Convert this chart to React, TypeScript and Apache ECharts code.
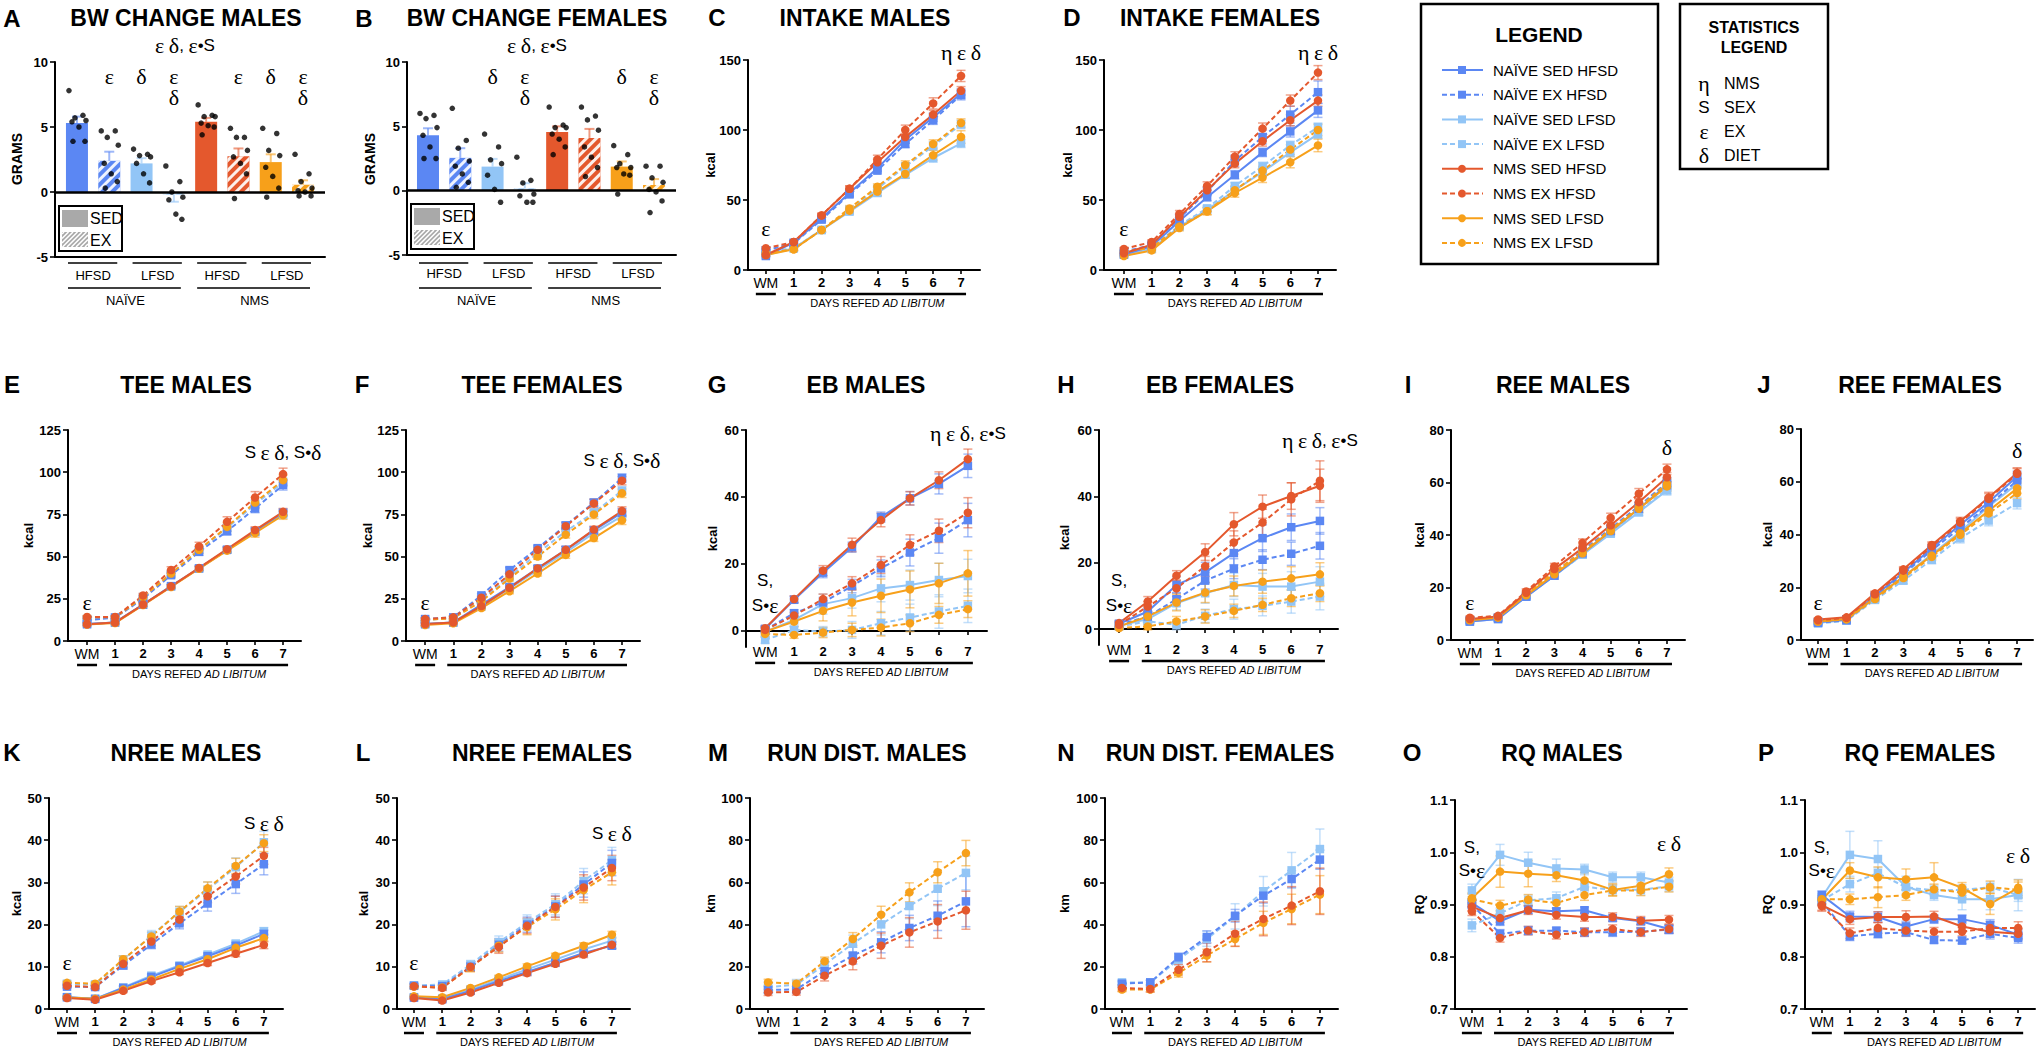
import React, { useEffect, useRef } from "react";
import * as echarts from "echarts";

// ---------- colours / groups ----------
const BLUE = "#5b87f3";
const LBLUE = "#92c5f6";
const RED = "#e4582d";
const ORANGE = "#f7a01a";

const GROUP_NAMES = ["NAÏVE SED HFSD", "NAÏVE EX HFSD", "NAÏVE SED LFSD", "NAÏVE EX LFSD", "NMS SED HFSD", "NMS EX HFSD", "NMS SED LFSD", "NMS EX LFSD"];
const GROUP_COLORS = [BLUE, BLUE, LBLUE, LBLUE, RED, RED, ORANGE, ORANGE];
const GROUP_DASHED = [false, true, false, true, false, true, false, true];
const GROUP_SYMBOL = ["rect", "rect", "rect", "rect", "circle", "circle", "circle", "circle"];
const DAY_LABELS = ["WM", "1", "2", "3", "4", "5", "6", "7"];
const DIET_LABELS = ["HFSD", "LFSD", "HFSD", "LFSD"];
const COHORT_LABELS = ["NAÏVE", "NMS"];
const BW_TICKS = [-5, 0, 5, 10];
const STATS = [["η", "NMS"], ["S", "SEX"], ["ε", "EX"], ["δ", "DIET"]];

// ---------- bar data (order = GROUP_NAMES) ----------
const BW_MALES = [5.3, 2.4, 2.2, -0.2, 5.4, 2.75, 2.3, 0.56];
const BW_MALES_SEM = [0.5, 0.7, 0.4, 0.55, 0.3, 0.6, 0.6, 0.34];
const BW_MALES_DOTS = [
  [7.8, 5.9, 5.7, 5.5, 5.4, 5.0, 3.9, 3.9],
  [4.7, 4.7, 4.2, 3.6, 2.2, 1.4, 0.8, 0.3],
  [3.3, 2.9, 2.8, 2.7, 2.2, 1.4, 0.7],
  [2.0, 0.8, 0.0, -0.4, -0.6, -1.7, -2.1],
  [6.7, 5.9, 5.8, 5.8, 5.3, 5.1, 5.0, 4.4],
  [4.9, 4.2, 4.2, 3.2, 2.7, 2.2, 1.4, -0.5],
  [4.9, 4.5, 3.2, 2.8, 1.9, 1.2, 0.3, -0.4],
  [2.9, 1.4, 0.8, 0.3, 0.1, 0.0, -0.3, -0.3],
];
const BW_FEMALES = [4.3, 2.55, 1.87, 0.18, 4.55, 4.1, 1.87, 0.44];
const BW_FEMALES_SEM = [0.55, 0.75, 0.6, 0.4, 0.45, 0.7, 0.4, 0.46];
const BW_FEMALES_DOTS = [
  [6.0, 5.85, 5.6, 4.9, 4.3, 3.4, 2.5, 2.5],
  [6.4, 3.9, 3.3, 2.3, 1.9, 1.3, 0.65, 0.26],
  [4.4, 3.4, 2.4, 2.1, 1.2, 0.1, -0.9],
  [2.6, 0.8, 0.6, -0.26, -0.4, -0.9, -0.9],
  [6.5, 5.1, 4.9, 4.9, 4.4, 4.0, 3.4, 2.8],
  [6.5, 5.8, 5.5, 4.7, 3.4, 2.6, 1.8, 1.1],
  [3.5, 2.8, 2.1, 1.8, 1.8, 1.3, 1.2, -0.26],
  [1.9, 1.9, 1.0, 0.65, 0.1, -0.1, -0.8, -1.7],
];

// ---------- line data: rows in GROUP_NAMES order, columns WM,1..7 ----------
const INTAKE_MALES = [
  [10, 19.5, 37, 55, 72.6, 93, 109, 126],
  [14, 19, 36, 54, 71, 90, 107, 125],
  [10.7, 15.5, 28.6, 41.7, 55, 68, 80, 90.5],
  [13, 15.5, 28.6, 43, 58, 74, 88.6, 104],
  [10.7, 20, 39, 58, 77, 95, 111, 128],
  [15.5, 20, 39, 58, 79, 100, 119, 138.6],
  [10.7, 14.8, 28.6, 42.4, 56, 68.6, 82, 95],
  [12, 14.8, 28.6, 44, 59.5, 75, 90, 105],
];
const INTAKE_MALES_SEM = [
  [0.8, 1, 1.5, 2, 2, 2.5, 3, 3.5],
  [0.8, 1, 1.5, 2, 2, 2.5, 3, 3.5],
  [0.8, 1, 1.5, 2, 2, 2.5, 3, 3],
  [0.8, 1, 1.5, 2, 2, 2.5, 3, 3],
  [0.8, 1, 1.5, 2, 2, 2.5, 3, 3],
  [1, 1, 1.5, 2, 3, 3.5, 4, 4],
  [0.8, 1, 1.5, 2, 3, 3, 3.5, 4.5],
  [0.8, 1, 1.5, 2, 2, 3, 3, 3],
];
const INTAKE_FEMALES = [
  [11, 17, 35, 52, 68, 84, 99, 114],
  [13, 18, 37, 56, 78, 95, 111, 127],
  [11, 15, 31, 43, 57, 70, 84, 97],
  [12, 16, 32, 44, 60, 74, 89, 102],
  [12, 18, 38, 57, 76, 92, 107, 121],
  [15, 20, 40, 60, 81, 101, 121, 141],
  [10, 14, 30, 42, 55, 66, 77, 89],
  [13, 16, 31, 42, 57, 71, 86, 100],
];
const INTAKE_FEMALES_SEM = [
  [1, 1.5, 2, 2.5, 3, 3, 4, 5],
  [1, 2, 2.5, 3, 4, 5, 6, 8],
  [1, 1.5, 2, 2, 2.5, 3, 3, 3],
  [1, 1.5, 2, 2, 2.5, 3, 3, 3],
  [1, 1.5, 2, 2.5, 3, 3.5, 4, 4],
  [1, 1.5, 2.5, 3, 3.5, 4, 4, 5],
  [1, 1.5, 2, 2.5, 3, 3.5, 4, 4.5],
  [1, 1.5, 2, 2.5, 3, 3, 3.5, 4],
];
const TEE_MALES = [
  [10, 11, 21.5, 32.5, 43, 54, 65, 76],
  [12.3, 13.8, 25, 39, 52.8, 65, 78.5, 92.4],
  [10, 11, 21.5, 32.4, 43, 54, 64.5, 75],
  [13, 14, 26, 40, 54, 67, 81, 94],
  [9.9, 10.9, 21.6, 32.4, 43.3, 54.4, 65.7, 76.5],
  [14.2, 14.2, 27, 42, 56, 70.6, 85, 98.9],
  [9.8, 10.6, 21.3, 32, 42.8, 53.5, 64, 74.6],
  [14, 14, 26, 40, 54, 67.6, 82, 95.3],
];
const TEE_MALES_SEM = [
  [0.8, 0.8, 1, 1, 1.2, 1.5, 2, 2],
  [0.8, 0.8, 1, 1.5, 2, 2, 2.5, 3],
  [0.8, 0.8, 1, 1, 1.2, 1.5, 2, 2],
  [0.8, 0.8, 1, 1.5, 2, 2, 2.5, 2.5],
  [0.8, 0.8, 1, 1, 1.2, 1.5, 2, 2],
  [0.8, 0.8, 1.2, 2, 2.5, 3, 3.5, 3.5],
  [0.8, 0.8, 1, 1, 1.2, 1.5, 2.5, 2.5],
  [0.8, 0.8, 1.2, 1.5, 2, 2.5, 3, 3],
];
const TEE_FEMALES = [
  [10, 11, 21.5, 32, 43, 54, 65.5, 76],
  [13, 14, 27, 42, 55, 68.5, 82, 96.5],
  [10, 11, 20.5, 31, 42, 52.5, 64, 74],
  [12.5, 13.5, 24.5, 38, 52, 65, 76, 89],
  [10, 11, 20.7, 31.5, 43, 54, 66, 77],
  [13, 14, 25.6, 39.5, 54, 68, 81.5, 95],
  [9.5, 10.5, 19.5, 29.5, 40, 51, 61, 71.5],
  [12.5, 13.5, 23.5, 37, 50, 63, 75, 87.5],
];
const TEE_FEMALES_SEM = [
  [0.8, 0.8, 1, 1.5, 1.5, 2, 2, 2.5],
  [0.8, 0.8, 1, 1.5, 1.5, 2, 2, 2.5],
  [0.8, 0.8, 1, 1.5, 1.5, 2, 2, 2.5],
  [0.8, 0.8, 1, 1.5, 1.5, 2, 2.5, 2.5],
  [0.8, 0.8, 1, 1.5, 1.5, 2, 2, 2.5],
  [0.8, 0.8, 1, 1.5, 1.5, 2, 2.5, 2.5],
  [0.8, 0.8, 1, 1.5, 1.5, 2, 2, 2.5],
  [0.8, 0.8, 1, 1.5, 1.5, 2, 2.5, 2.5],
];
const EB_MALES = [
  [0.6, 9.3, 17.4, 25, 34, 39.6, 43.9, 49.3],
  [0.3, 5.3, 8.5, 13.4, 18.7, 23.4, 27.7, 33.1],
  [-0.2, 3.3, 8, 9.8, 12.7, 13.7, 15.2, 16.4],
  [-2.7, 0.3, -0.2, 0.3, 2.3, 4, 5.8, 7.5],
  [0.8, 9.5, 18, 25.7, 33.1, 39.6, 45, 51.3],
  [0.3, 4.6, 9.5, 14.2, 19.7, 25.7, 29.9, 35.3],
  [-0.2, 2.8, 6, 8.5, 10.5, 12.4, 14.2, 17.2],
  [-0.9, -1.2, -0.5, 0.3, 1, 2.3, 4.8, 6.5],
];
const EB_MALES_SEM = [
  [0.8, 1, 1.5, 1.5, 1.5, 2, 3, 3.5],
  [0.8, 1, 1.5, 2, 2.5, 4, 4.5, 5],
  [1.5, 2, 3, 3, 4, 4.5, 5, 5],
  [1, 1.5, 1.5, 2.5, 3.5, 4, 5, 5],
  [0.8, 1, 1.5, 2, 2, 2, 2.5, 3],
  [0.8, 1, 1.5, 2, 2.5, 3, 3.5, 4.5],
  [1, 1.5, 3, 4, 5, 5.5, 6, 6.8],
  [1, 1, 1.5, 2, 2.5, 2.5, 2.5, 2.5],
];
const EB_FEMALES = [
  [1.6, 5.3, 13.3, 17.1, 22.9, 27.4, 30.7, 32.6],
  [1.3, 3.8, 9, 14.6, 18.2, 20.9, 22.7, 25.1],
  [1, 3, 7.8, 10.8, 13.3, 12.8, 12.8, 14.3],
  [0.8, 2.3, 1.3, 4, 6, 7, 8.3, 9.8],
  [1.8, 8.3, 16.1, 23.2, 31.6, 36.9, 40.1, 43.2],
  [1.3, 6.8, 12.3, 18.9, 26.1, 32.1, 39.1, 44.7],
  [0.8, 3.8, 8, 11, 13, 14.3, 15.3, 16.5],
  [0.3, 0.8, 2.3, 3.8, 5.5, 7.3, 9.3, 10.8],
];
const EB_FEMALES_SEM = [
  [0.8, 2, 2.5, 3, 3.5, 4, 4, 4],
  [0.8, 1.5, 2, 2.5, 3, 3, 3.5, 4],
  [0.8, 1.5, 2, 3, 3.5, 4, 4.5, 4.5],
  [0.5, 1, 1.5, 2, 3, 3, 3.5, 4],
  [0.8, 1.5, 1.5, 2.5, 3.5, 3.5, 4, 5],
  [0.8, 1.5, 2.5, 3, 3.5, 4, 5, 6],
  [0.8, 1.5, 2.5, 3, 3, 3.5, 3.5, 3.5],
  [0.5, 1, 1.5, 2, 2, 2, 2.5, 2.5],
];
const REE_MALES = [
  [7, 8, 16.5, 24.5, 33, 41.5, 50, 59],
  [7.5, 8.5, 17, 25.5, 34, 42.5, 51, 60],
  [7, 8, 16.5, 24.5, 32.5, 40.5, 48.7, 57],
  [7.5, 8.5, 16.5, 24.5, 32.5, 41, 49, 57.5],
  [8, 9, 18, 27, 35, 43.7, 52.5, 62],
  [8.5, 9.2, 18.5, 28, 37, 46.5, 55.7, 65],
  [7.5, 8.5, 17, 25, 33, 41.5, 50, 58.5],
  [8, 8.8, 17.5, 26, 33.5, 42, 50.5, 59.5],
];
const REE_MALES_SEM = [
  [0.5, 0.6, 0.8, 1, 1, 1.2, 1.5, 1.8],
  [0.5, 0.6, 0.8, 1, 1, 1.2, 1.5, 1.8],
  [0.5, 0.6, 0.8, 1, 1, 1.2, 1.5, 1.8],
  [0.5, 0.6, 0.8, 1, 1, 1.2, 1.5, 1.8],
  [0.5, 0.6, 0.8, 1, 1, 1.2, 1.5, 1.8],
  [0.6, 0.6, 1, 1.2, 1.5, 1.8, 2, 2],
  [0.5, 0.6, 0.8, 1, 1, 1.2, 1.5, 1.8],
  [0.5, 0.6, 0.8, 1, 1, 1.2, 1.5, 1.8],
];
const REE_FEMALES = [
  [6.8, 7.8, 16.8, 25.6, 34.8, 43.7, 52.2, 62],
  [6.5, 7.5, 16.3, 25, 34, 42.5, 51, 60.5],
  [6.5, 7.5, 15.8, 24, 32.5, 41, 50.6, 59.2],
  [6.3, 7.3, 15.2, 22.5, 30.4, 38.6, 45.3, 51.9],
  [7.8, 8.6, 17.7, 26.8, 36, 45, 54, 63.3],
  [7.5, 8.4, 17.3, 26.3, 35.5, 44.5, 53.5, 63],
  [7, 8, 16, 24, 32, 40.5, 49, 57.5],
  [7, 7.8, 15.5, 23.5, 31.5, 39.9, 48, 55.7],
];
const REE_FEMALES_SEM = [
  [0.5, 0.6, 0.8, 1, 1.2, 1.5, 2, 2],
  [0.5, 0.6, 0.8, 1, 1.2, 1.5, 2, 2],
  [0.5, 0.6, 0.8, 1, 1.2, 1.5, 2, 2],
  [0.5, 0.6, 1, 1.2, 1.5, 1.8, 2, 2.2],
  [0.5, 0.6, 0.8, 1, 1.2, 1.5, 2, 2],
  [0.5, 0.6, 0.8, 1, 1.2, 1.5, 2, 2],
  [0.5, 0.6, 0.8, 1, 1.2, 1.5, 2, 2],
  [0.5, 0.6, 0.8, 1, 1.2, 1.5, 2, 2.2],
];
const NREE_MALES = [
  [2.8, 2.4, 5, 7.6, 10.1, 12.5, 15, 17.8],
  [5.3, 5.2, 10.3, 15.3, 20.3, 25, 29.6, 34.3],
  [2.8, 2.4, 5.1, 7.9, 10.3, 12.9, 15.5, 18.4],
  [6.0, 5.8, 11.6, 17.4, 23.0, 28.3, 33.6, 39.5],
  [2.6, 2.2, 4.3, 6.6, 8.7, 10.9, 13.1, 15.2],
  [5.5, 5.2, 10.7, 16, 21.2, 26.7, 31.4, 36.3],
  [2.7, 2.4, 4.6, 7, 9.5, 11.8, 14.5, 16.8],
  [6.2, 6, 11.8, 17.2, 23.1, 28.6, 33.9, 39.3],
];
const NREE_MALES_SEM = [
  [0.3, 0.3, 0.4, 0.5, 0.5, 0.6, 0.7, 0.9],
  [0.4, 0.4, 0.8, 1, 1.3, 1.8, 2.2, 2.5],
  [0.3, 0.3, 0.4, 0.5, 0.5, 0.6, 0.7, 0.9],
  [0.5, 0.5, 1, 1.2, 1.3, 1.8, 2.2, 2.6],
  [0.3, 0.3, 0.4, 0.5, 0.5, 0.6, 0.7, 0.9],
  [0.4, 0.4, 0.8, 1, 1.3, 1.5, 1.8, 2],
  [0.3, 0.3, 0.4, 0.5, 0.5, 0.6, 0.7, 0.9],
  [0.4, 0.4, 0.8, 1, 1.2, 1.5, 1.8, 2],
];
const NREE_FEMALES = [
  [2.7, 2.3, 4.3, 6.6, 8.8, 11, 13.3, 15],
  [5.5, 5.4, 10, 15.2, 20, 24.3, 29.5, 34.6],
  [2.8, 2.5, 4.6, 7.0, 9.4, 11.7, 14.1, 16.2],
  [5.6, 5.8, 10.5, 15.8, 20.5, 24.8, 30.3, 35.3],
  [2.6, 2.0, 3.9, 6.2, 8.5, 10.7, 12.9, 15.2],
  [5.4, 5.0, 10, 14.7, 19.7, 24.2, 28.8, 33.4],
  [3.0, 2.8, 5.0, 7.5, 10.1, 12.6, 15, 17.6],
  [5.3, 5.1, 9.8, 15, 19.4, 23.6, 28.2, 32.4],
];
const NREE_FEMALES_SEM = [
  [0.3, 0.3, 0.4, 0.5, 0.6, 0.6, 0.7, 0.8],
  [0.5, 0.6, 1, 1.5, 1.8, 2.5, 3, 3],
  [0.3, 0.3, 0.4, 0.5, 0.6, 0.6, 0.7, 0.8],
  [0.5, 0.6, 1, 1.5, 1.8, 2.5, 3, 3],
  [0.3, 0.3, 0.4, 0.5, 0.6, 0.6, 0.7, 0.8],
  [0.5, 0.6, 1, 1.5, 1.8, 2.5, 3, 3],
  [0.3, 0.3, 0.4, 0.5, 0.6, 0.6, 0.7, 0.8],
  [0.5, 0.6, 1, 1.5, 1.8, 2.5, 3, 3],
];
// running distance: EX groups only (NAÏVE EX HFSD, NAÏVE EX LFSD, NMS EX HFSD, NMS EX LFSD)
const RUN_MALES = [
  [9, 9.3, 17.9, 25.3, 31.6, 38.4, 44.2, 51],
  [10.4, 11.5, 21, 31, 40.1, 48.8, 57, 64.5],
  [7.9, 8.1, 15.8, 22.6, 30, 36.3, 41.5, 46.8],
  [12.6, 12, 22.6, 33.2, 44.7, 55.3, 64.8, 73.9],
];
const RUN_MALES_SEM = [
  [1.5, 1.5, 2.5, 4, 5, 6, 7, 12],
  [2.5, 2.5, 3, 4, 5, 6, 8, 8],
  [1.5, 1.5, 2.5, 4, 6, 7, 8, 9],
  [1.5, 1.5, 2, 3, 4, 4.5, 5, 6],
];
const RUN_FEMALES = [
  [12, 12.6, 24.5, 34.1, 44.2, 53.7, 61.6, 70.8],
  [12.6, 12.6, 23.4, 33.2, 43.9, 55.8, 65.7, 75.8],
  [10, 9.5, 18.6, 26.9, 35.7, 42.7, 49, 55.8],
  [9.2, 9.2, 17.1, 25.3, 33.2, 40.8, 47.4, 54.2],
];
const RUN_FEMALES_SEM = [
  [1, 1, 2, 3, 3, 3.5, 4, 4.5],
  [1, 1, 2.5, 3.5, 6, 7, 8.5, 9.5],
  [1.5, 1.5, 2.5, 4.5, 6, 8, 9, 11],
  [1, 1, 2, 3, 3.5, 5.5, 7, 9],
];
const RQ_MALES = [
  [0.903, 0.868, 0.89, 0.887, 0.889, 0.874, 0.868, 0.853],
  [0.9, 0.844, 0.85, 0.85, 0.847, 0.847, 0.848, 0.852],
  [0.927, 0.995, 0.98, 0.969, 0.967, 0.952, 0.952, 0.942],
  [0.86, 0.883, 0.908, 0.912, 0.934, 0.928, 0.928, 0.935],
  [0.896, 0.874, 0.889, 0.88, 0.876, 0.876, 0.869, 0.871],
  [0.887, 0.836, 0.85, 0.842, 0.847, 0.853, 0.847, 0.853],
  [0.912, 0.963, 0.959, 0.956, 0.946, 0.928, 0.936, 0.958],
  [0.91, 0.898, 0.909, 0.903, 0.918, 0.927, 0.927, 0.934],
];
const RQ_MALES_SEM = [
  [0.008, 0.008, 0.008, 0.006, 0.006, 0.006, 0.006, 0.008],
  [0.008, 0.008, 0.008, 0.006, 0.008, 0.008, 0.008, 0.008],
  [0.012, 0.02, 0.02, 0.018, 0.01, 0.01, 0.01, 0.01],
  [0.012, 0.01, 0.01, 0.012, 0.01, 0.01, 0.01, 0.01],
  [0.008, 0.008, 0.008, 0.008, 0.008, 0.008, 0.008, 0.008],
  [0.008, 0.008, 0.008, 0.008, 0.008, 0.008, 0.008, 0.008],
  [0.01, 0.03, 0.025, 0.012, 0.015, 0.012, 0.012, 0.012],
  [0.01, 0.01, 0.01, 0.01, 0.01, 0.01, 0.01, 0.01],
];
const RQ_FEMALES = [
  [0.918, 0.877, 0.876, 0.858, 0.872, 0.872, 0.861, 0.842],
  [0.906, 0.839, 0.844, 0.847, 0.832, 0.831, 0.844, 0.836],
  [0.914, 0.995, 0.987, 0.934, 0.918, 0.91, 0.91, 0.918],
  [0.908, 0.939, 0.96, 0.933, 0.927, 0.928, 0.933, 0.918],
  [0.899, 0.872, 0.876, 0.876, 0.877, 0.858, 0.848, 0.844],
  [0.897, 0.845, 0.855, 0.85, 0.848, 0.848, 0.855, 0.855],
  [0.909, 0.965, 0.952, 0.948, 0.952, 0.932, 0.901, 0.932],
  [0.91, 0.91, 0.914, 0.918, 0.929, 0.923, 0.933, 0.928],
];
const RQ_FEMALES_SEM = [
  [0.008, 0.01, 0.01, 0.01, 0.008, 0.008, 0.01, 0.01],
  [0.008, 0.008, 0.008, 0.008, 0.006, 0.006, 0.01, 0.01],
  [0.008, 0.045, 0.035, 0.02, 0.01, 0.02, 0.02, 0.012],
  [0.008, 0.015, 0.01, 0.012, 0.01, 0.01, 0.01, 0.03],
  [0.01, 0.01, 0.01, 0.012, 0.01, 0.01, 0.01, 0.01],
  [0.01, 0.01, 0.01, 0.01, 0.008, 0.008, 0.012, 0.012],
  [0.008, 0.015, 0.02, 0.02, 0.028, 0.01, 0.02, 0.015],
  [0.008, 0.01, 0.02, 0.01, 0.01, 0.01, 0.012, 0.015],
];

// ---------- layout ----------
const SANS = "Liberation Sans, Arial, Helvetica, sans-serif";
const SERIF = "Liberation Serif, Times New Roman, serif";
const ALL = [0, 1, 2, 3, 4, 5, 6, 7];
const EXONLY = [1, 3, 5, 7];
const DRAW_ORDER = [2, 3, 0, 1, 6, 7, 4, 5];
const JITTER = [-8, 6, -2, 9, -5, 2, 8, -4];

const BAR_PANELS = [
  { letter: "A", title: "BW CHANGE MALES", lx: 12, tx: 186, x0: 55, x1: 325, yTop: 62, yBot: 257, xmin: -0.68, xmax: 7.68,
    means: BW_MALES, sem: BW_MALES_SEM, dots: BW_MALES_DOTS, ynx: 17, legX: 59, legY: 206, top: "ε δ, ε•S", topX: 185,
    marks: [[1, "ε"], [2, "δ"], [3, "ε", "δ"], [5, "ε"], [6, "δ"], [7, "ε", "δ"]] },
  { letter: "B", title: "BW CHANGE FEMALES", lx: 364, tx: 537, x0: 407, x1: 676, yTop: 62, yBot: 255, xmin: -0.65, xmax: 7.68,
    means: BW_FEMALES, sem: BW_FEMALES_SEM, dots: BW_FEMALES_DOTS, ynx: 370, legX: 411, legY: 204, top: "ε δ, ε•S", topX: 537,
    marks: [[2, "δ"], [3, "ε", "δ"], [6, "δ"], [7, "ε", "δ"]] },
];

const LINE_PANELS: any[] = [
  { letter: "C", title: "INTAKE MALES", lx: 717, tx: 865, ty: 18, x0: 748, x1: 980, yTop: 60, yBot: 270, xmin: -0.64, xmax: 7.68,
    ymin: 0, ymax: 150, yticks: [0, 50, 100, 150], yname: "kcal", ynx: 710, data: INTAKE_MALES, sem: INTAKE_MALES_SEM, groups: ALL,
    annos: [["ε", 0, 228], ["η ε δ", 7, 52]] },
  { letter: "D", title: "INTAKE FEMALES", lx: 1072, tx: 1220, ty: 18, x0: 1104, x1: 1336, yTop: 60, yBot: 270, xmin: -0.72, xmax: 7.65,
    ymin: 0, ymax: 150, yticks: [0, 50, 100, 150], yname: "kcal", ynx: 1067, data: INTAKE_FEMALES, sem: INTAKE_FEMALES_SEM, groups: ALL,
    annos: [["ε", 0, 228], ["η ε δ", 7, 52]] },
  { letter: "E", title: "TEE MALES", lx: 12, tx: 186, ty: 385, x0: 68, x1: 301, yTop: 430, yBot: 641, xmin: -0.68, xmax: 7.64,
    ymin: 0, ymax: 125, yticks: [0, 25, 50, 75, 100, 125], yname: "kcal", ynx: 28, data: TEE_MALES, sem: TEE_MALES_SEM, groups: ALL,
    annos: [["ε", 0, 602], ["S ε δ, S•δ", 7, 452]] },
  { letter: "F", title: "TEE FEMALES", lx: 362, tx: 542, ty: 385, x0: 406, x1: 640, yTop: 430, yBot: 641, xmin: -0.68, xmax: 7.64,
    ymin: 0, ymax: 125, yticks: [0, 25, 50, 75, 100, 125], yname: "kcal", ynx: 367, data: TEE_FEMALES, sem: TEE_FEMALES_SEM, groups: ALL,
    annos: [["ε", 0, 602], ["S ε δ, S•δ", 7, 460]] },
  { letter: "G", title: "EB MALES", lx: 717, tx: 866, ty: 385, x0: 746, x1: 987, yTop: 430, yBot: 647, xmin: -0.66, xmax: 7.66,
    ymin: -4.8, ymax: 60, yticks: [0, 20, 40, 60], yname: "kcal", ynx: 712, data: EB_MALES, sem: EB_MALES_SEM, groups: ALL, zeroAxis: true,
    annos: [["S,", 0, 580], ["S•ε", 0, 605], ["η ε δ, ε•S", 7, 433]] },
  { letter: "H", title: "EB FEMALES", lx: 1066, tx: 1220, ty: 385, x0: 1099, x1: 1338, yTop: 430, yBot: 645, xmin: -0.7, xmax: 7.63,
    ymin: -4.8, ymax: 60, yticks: [0, 20, 40, 60], yname: "kcal", ynx: 1064, data: EB_FEMALES, sem: EB_FEMALES_SEM, groups: ALL, zeroAxis: true,
    annos: [["S,", 0, 580], ["S•ε", 0, 605], ["η ε δ, ε•S", 7, 440]] },
  { letter: "I", title: "REE MALES", lx: 1408, tx: 1563, ty: 385, x0: 1451, x1: 1685, yTop: 430, yBot: 640, xmin: -0.67, xmax: 7.64,
    ymin: 0, ymax: 80, yticks: [0, 20, 40, 60, 80], yname: "kcal", ynx: 1419, data: REE_MALES, sem: REE_MALES_SEM, groups: ALL,
    annos: [["ε", 0, 602], ["δ", 7, 447]] },
  { letter: "J", title: "REE FEMALES", lx: 1764, tx: 1920, ty: 385, x0: 1801, x1: 2033, yTop: 429, yBot: 640, xmin: -0.6, xmax: 7.56,
    ymin: 0, ymax: 80, yticks: [0, 20, 40, 60, 80], yname: "kcal", ynx: 1767, data: REE_FEMALES, sem: REE_FEMALES_SEM, groups: ALL,
    annos: [["ε", 0, 602], ["δ", 7, 450]] },
  { letter: "K", title: "NREE MALES", lx: 12, tx: 186, ty: 753, x0: 49, x1: 283, yTop: 798, yBot: 1009, xmin: -0.64, xmax: 7.68,
    ymin: 0, ymax: 50, yticks: [0, 10, 20, 30, 40, 50], yname: "kcal", ynx: 16, data: NREE_MALES, sem: NREE_MALES_SEM, groups: ALL,
    annos: [["ε", 0, 962], ["S ε δ", 7, 823]] },
  { letter: "L", title: "NREE FEMALES", lx: 363, tx: 542, ty: 753, x0: 397, x1: 630, yTop: 798, yBot: 1009, xmin: -0.6, xmax: 7.64,
    ymin: 0, ymax: 50, yticks: [0, 10, 20, 30, 40, 50], yname: "kcal", ynx: 363, data: NREE_FEMALES, sem: NREE_FEMALES_SEM, groups: ALL,
    annos: [["ε", 0, 962], ["S ε δ", 7, 833]] },
  { letter: "M", title: "RUN DIST. MALES", lx: 718, tx: 867, ty: 753, x0: 750, x1: 984, yTop: 798, yBot: 1009, xmin: -0.64, xmax: 7.64,
    ymin: 0, ymax: 100, yticks: [0, 20, 40, 60, 80, 100], yname: "km", ynx: 710, data: RUN_MALES, sem: RUN_MALES_SEM, groups: EXONLY,
    annos: [] },
  { letter: "N", title: "RUN DIST. FEMALES", lx: 1066, tx: 1220, ty: 753, x0: 1105, x1: 1338, yTop: 798, yBot: 1009, xmin: -0.6, xmax: 7.64,
    ymin: 0, ymax: 100, yticks: [0, 20, 40, 60, 80, 100], yname: "km", ynx: 1064, data: RUN_FEMALES, sem: RUN_FEMALES_SEM, groups: EXONLY,
    annos: [] },
  { letter: "O", title: "RQ MALES", lx: 1412, tx: 1562, ty: 753, x0: 1455, x1: 1687, yTop: 800, yBot: 1009, xmin: -0.6, xmax: 7.64,
    ymin: 0.7, ymax: 1.1, yticks: [0.7, 0.8, 0.9, 1.0, 1.1], yname: "RQ", ynx: 1419, data: RQ_MALES, sem: RQ_MALES_SEM, groups: ALL, dec: 1,
    annos: [["S,", 0, 847], ["S•ε", 0, 870], ["ε δ", 7, 843]] },
  { letter: "P", title: "RQ FEMALES", lx: 1766, tx: 1920, ty: 753, x0: 1805, x1: 2035, yTop: 800, yBot: 1009, xmin: -0.6, xmax: 7.6,
    ymin: 0.7, ymax: 1.1, yticks: [0.7, 0.8, 0.9, 1.0, 1.1], yname: "RQ", ynx: 1767, data: RQ_FEMALES, sem: RQ_FEMALES_SEM, groups: ALL, dec: 1,
    annos: [["S,", 0, 847], ["S•ε", 0, 870], ["ε δ", 7, 855]] },
];

// ---------- helpers ----------
function px(p: any, x: number) {
  return p.x0 + ((x - p.xmin) / (p.xmax - p.xmin)) * (p.x1 - p.x0);
}
function py(p: any, y: number) {
  return p.yBot - ((y - p.ymin) / (p.ymax - p.ymin)) * (p.yBot - p.yTop);
}
function alpha(hex: string, a: number) {
  const n = parseInt(hex.slice(1), 16);
  return `rgba(${(n >> 16) & 255},${(n >> 8) & 255},${n & 255},${a})`;
}
function txt(text: string, x: number, y: number, size: number, o: any = {}) {
  return {
    type: "text", x, y, silent: true, rotation: o.rot || 0, z: 50,
    style: {
      text, fontSize: size, fontWeight: o.bold ? "bold" : "normal", fontFamily: o.serif ? SERIF : SANS,
      fontStyle: o.italic ? "italic" : "normal", fill: "#000", textAlign: o.align || "center", textVerticalAlign: "middle",
      rich: o.rich,
    },
  };
}
const GREEK = "εδηε";
function anno(s: string, x: number, y: number) {
  let out = "";
  for (const ch of s) {
    if (GREEK.includes(ch)) out += `{g|${ch}}`;
    else if (ch === " ") out += `{sp| }`;
    else out += `{s|${ch}}`;
  }
  return txt(out, x, y, 20, {
    rich: {
      g: { fontFamily: SERIF, fontSize: 22, fill: "#000" },
      s: { fontFamily: SANS, fontSize: 17, fill: "#000" },
      sp: { fontFamily: SERIF, fontSize: 18, fill: "#000" },
    },
  });
}
function hline(x1: number, x2: number, y: number, w = 2.5) {
  return { type: "line", silent: true, z: 50, shape: { x1, y1: y, x2, y2: y }, style: { stroke: "#000", lineWidth: w } };
}
function hatch(x: number, y: number, w: number, h: number, step: number) {
  const out: any[] = [];
  for (let t = -h + 2; t < w; t += step) {
    let x1 = x + t, y1 = y + h, x2 = x + t + h, y2 = y;
    if (x1 < x) { y1 -= x - x1; x1 = x; }
    if (x2 > x + w) { y2 += x2 - (x + w); x2 = x + w; }
    out.push({ type: "line", silent: true, z: 52, shape: { x1, y1, x2, y2 }, style: { stroke: "#fff", lineWidth: 1.6 } });
  }
  return out;
}

function buildOption() {
  const grid: any[] = [], xAxis: any[] = [], yAxis: any[] = [], series: any[] = [], graphic: any[] = [];
  const axisLine = { color: "#000", width: 2 };
  const tickStyle = { color: "#000", width: 1.6 };
  const yLabel = { fontSize: 13, fontWeight: "bold", color: "#000", fontFamily: SANS, margin: 7 };

  // ---------------- bar panels ----------------
  BAR_PANELS.forEach((p) => {
    const gi = grid.length;
    grid.push({ left: p.x0, top: p.yTop, width: p.x1 - p.x0, height: p.yBot - p.yTop, outerBoundsMode: "none" });
    xAxis.push({
      type: "value", gridIndex: gi, min: p.xmin, max: p.xmax, splitLine: { show: false },
      axisLine: { show: true, onZero: false, lineStyle: axisLine }, axisTick: { show: false },
      axisLabel: {
        customValues: [0.5, 2.5, 4.5, 6.5], margin: 12, fontSize: 13, color: "#000", fontFamily: SANS,
        formatter: (v: number) => DIET_LABELS[Math.round((v - 0.5) / 2)],
      },
    });
    yAxis.push({
      type: "value", gridIndex: gi, min: -5, max: 10, splitLine: { show: false },
      axisLine: { show: true, onZero: false, lineStyle: axisLine },
      axisTick: { show: true, customValues: BW_TICKS, length: 5, lineStyle: tickStyle },
      axisLabel: { ...yLabel, customValues: BW_TICKS },
    });
    const decal = {
      symbol: "rect", symbolSize: 1, color: "rgba(255,255,255,0.9)", dashArrayX: [1, 0], dashArrayY: [2.5, 3.5], rotation: -Math.PI / 4,
    };
    series.push({
      type: "bar", xAxisIndex: gi, yAxisIndex: gi, barWidth: 22, barGap: "-100%", silent: true, z: 2,
      data: [0, 2, 4, 6].map((i) => ({ value: [i, p.means[i]], itemStyle: { color: GROUP_COLORS[i] } })),
    });
    series.push({
      type: "bar", xAxisIndex: gi, yAxisIndex: gi, barWidth: 22, barGap: "-100%", silent: true, z: 2,
      itemStyle: { decal },
      data: [1, 3, 5, 7].map((i) => ({ value: [i, p.means[i]], itemStyle: { color: GROUP_COLORS[i], decal } })),
    });
    series.push({
      type: "custom", xAxisIndex: gi, yAxisIndex: gi, silent: true, z: 3,
      data: p.means.map((m, i) => [i, m, p.sem[i]]),
      renderItem: (params: any, api: any) => {
        const i = params.dataIndex;
        const x = api.value(0), m = api.value(1), e = api.value(2);
        const dir = m >= 0 ? 1 : -1;
        const a = api.coord([x, m]);
        const b = api.coord([x, m + dir * e]);
        const st = { stroke: alpha(GROUP_COLORS[i], 0.6), lineWidth: 2 };
        return {
          type: "group",
          children: [
            { type: "line", shape: { x1: a[0], y1: a[1], x2: b[0], y2: b[1] }, style: st },
            { type: "line", shape: { x1: b[0] - 5, y1: b[1], x2: b[0] + 5, y2: b[1] }, style: st },
          ],
        };
      },
      markLine: {
        silent: true, symbol: ["none", "none"], label: { show: false },
        lineStyle: { color: "#000", width: 2.5, type: "solid" }, data: [{ yAxis: 0 }],
      },
    });
    series.push({
      type: "scatter", xAxisIndex: gi, yAxisIndex: gi, silent: true, z: 4, symbolSize: 5.5, itemStyle: { color: "#000" },
      data: p.dots.flatMap((arr, i) => arr.map((v, k) => ({ value: [i, v], symbolOffset: [JITTER[k % JITTER.length], 0] }))),
    });

    // texts
    graphic.push(txt(p.letter, p.lx, 18, 24, { bold: true }));
    graphic.push(txt(p.title, p.tx, 18, 23, { bold: true }));
    graphic.push(anno(p.top, p.topX, 45));
    p.marks.forEach((m: any) => {
      const x = px(p, m[0]);
      graphic.push(anno(m[1], x, 76));
      if (m[2]) graphic.push(anno(m[2], x, 97));
    });
    graphic.push(txt("GRAMS", p.ynx, 159, 14, { bold: true, rot: Math.PI / 2 }));
    // group underlines
    [0, 2, 4, 6].forEach((i) => graphic.push(hline(px(p, i) - 9, px(p, i + 1) + 8, 263, 1.6)));
    [0, 4].forEach((i, k) => {
      graphic.push(hline(px(p, i) - 9, px(p, i + 3) + 7, 288, 1.6));
      graphic.push(txt(COHORT_LABELS[k], (px(p, i) + px(p, i + 3)) / 2, 300, 13));
    });
    // SED / EX legend
    const lx = p.legX, ly = p.legY;
    graphic.push({ type: "rect", silent: true, z: 51, shape: { x: lx, y: ly, width: 63, height: 45 }, style: { fill: "#fff", stroke: "#000", lineWidth: 2 } });
    graphic.push({ type: "rect", silent: true, z: 52, shape: { x: lx + 3, y: ly + 4, width: 26, height: 17 }, style: { fill: "#a9a9a9" } });
    graphic.push({ type: "rect", silent: true, z: 52, shape: { x: lx + 3, y: ly + 26, width: 26, height: 15 }, style: { fill: "#a9a9a9" } });
    hatch(lx + 3, ly + 26, 26, 15, 4.5).forEach((g) => graphic.push(g));
    graphic.push({ ...txt("SED", lx + 31, ly + 12, 16, { align: "left" }), z: 53 });
    graphic.push({ ...txt("EX", lx + 31, ly + 34, 16, { align: "left" }), z: 53 });
  });

  // ---------------- line panels ----------------
  LINE_PANELS.forEach((p) => {
    const gi = grid.length;
    grid.push({ left: p.x0, top: p.yTop, width: p.x1 - p.x0, height: p.yBot - p.yTop, outerBoundsMode: "none" });
    const zeroOffset = p.zeroAxis ? -(p.yBot - py(p, 0)) : 0;
    xAxis.push({
      type: "value", gridIndex: gi, min: p.xmin, max: p.xmax, splitLine: { show: false }, position: "bottom", offset: zeroOffset,
      axisLine: { show: true, onZero: false, lineStyle: axisLine },
      axisTick: { show: true, customValues: ALL, length: 4, lineStyle: tickStyle },
      axisLabel: {
        customValues: ALL, margin: p.zeroAxis ? 14 : 6, color: "#000",
        formatter: (v: number) => (Math.round(v) === 0 ? "{w|WM}" : `{d|${DAY_LABELS[Math.round(v)]}}`),
        rich: {
          w: { fontSize: 14, fontFamily: SANS, color: "#000" },
          d: { fontSize: 13, fontWeight: "bold", fontFamily: SANS, color: "#000" },
        },
      },
    });
    yAxis.push({
      type: "value", gridIndex: gi, min: p.ymin, max: p.ymax, splitLine: { show: false },
      axisLine: { show: true, onZero: false, lineStyle: axisLine },
      axisTick: { show: true, customValues: p.yticks, length: 5, lineStyle: tickStyle },
      axisLabel: { ...yLabel, customValues: p.yticks, formatter: (v: number) => (p.dec ? v.toFixed(1) : String(Math.round(v))) },
    });

    DRAW_ORDER.filter((g) => p.groups.includes(g)).forEach((g) => {
      const row = p.groups.indexOf(g);
      const vals: number[] = p.data[row];
      const sem: number[] = p.sem[row];
      const color = GROUP_COLORS[g];
      series.push({
        type: "custom", xAxisIndex: gi, yAxisIndex: gi, silent: true, z: 2,
        data: vals.map((v, i) => [i, v, sem[i]]),
        renderItem: (params: any, api: any) => {
          const x = api.value(0), v = api.value(1), e = api.value(2);
          const t = api.coord([x, v + e]);
          const b = api.coord([x, v - e]);
          const st = { stroke: alpha(color, 0.55), lineWidth: 1.5 };
          return {
            type: "group",
            children: [
              { type: "line", shape: { x1: t[0], y1: t[1], x2: b[0], y2: b[1] }, style: st },
              { type: "line", shape: { x1: t[0] - 4.5, y1: t[1], x2: t[0] + 4.5, y2: t[1] }, style: st },
              { type: "line", shape: { x1: b[0] - 4.5, y1: b[1], x2: b[0] + 4.5, y2: b[1] }, style: st },
            ],
          };
        },
      });
      series.push({
        type: "line", name: GROUP_NAMES[g], xAxisIndex: gi, yAxisIndex: gi, silent: true, z: 3,
        data: vals.map((v, i) => [i, v]),
        symbol: GROUP_SYMBOL[g], symbolSize: 8.5, showSymbol: true,
        lineStyle: { color, width: 2, type: GROUP_DASHED[g] ? [5, 3] : "solid" },
        itemStyle: { color },
      });
    });

    // texts
    graphic.push(txt(p.letter, p.lx, p.ty - 1, 24, { bold: true }));
    graphic.push(txt(p.title, p.tx, p.ty, 23, { bold: true }));
    graphic.push(txt(p.yname, p.ynx, (p.yTop + p.yBot) / 2, 13, { bold: true, rot: Math.PI / 2 }));
    p.annos.forEach((a: any) => graphic.push(anno(a[0], px(p, a[1]), a[2])));
    const base = p.zeroAxis ? py(p, 0) + 32 : p.yBot + 24;
    graphic.push(hline(px(p, 0) - 10, px(p, 0) + 10, base));
    graphic.push(hline(px(p, 1) - 6, px(p, 7) + 5, base));
    graphic.push(
      txt("{a|DAYS REFED }{b|AD LIBITUM}", (px(p, 1) + px(p, 7)) / 2, base + 9, 11, {
        rich: {
          a: { fontSize: 11, fontFamily: SANS, fill: "#000" },
          b: { fontSize: 11, fontFamily: SANS, fontStyle: "italic", fill: "#000" },
        },
      })
    );
  });

  // ---------------- group legend ----------------
  graphic.push({ type: "rect", silent: true, shape: { x: 1421, y: 4, width: 237, height: 260 }, style: { fill: "none", stroke: "#000", lineWidth: 2.5 } });
  graphic.push(txt("LEGEND", 1539, 34, 21, { bold: true }));
  GROUP_NAMES.forEach((name, i) => {
    const y = 70 + i * 24.7;
    const c = GROUP_COLORS[i];
    graphic.push({
      type: "line", silent: true, shape: { x1: 1442, y1: y, x2: 1483, y2: y },
      style: { stroke: c, lineWidth: 2, lineDash: GROUP_DASHED[i] ? [5, 3] : null },
    });
    if (GROUP_SYMBOL[i] === "rect") graphic.push({ type: "rect", silent: true, shape: { x: 1458, y: y - 4, width: 8, height: 8 }, style: { fill: c } });
    else graphic.push({ type: "circle", silent: true, shape: { cx: 1462, cy: y, r: 4 }, style: { fill: c } });
    graphic.push(txt(name, 1493, y, 15, { align: "left" }));
  });

  // ---------------- statistics legend ----------------
  graphic.push({ type: "rect", silent: true, shape: { x: 1680, y: 4, width: 148, height: 165 }, style: { fill: "none", stroke: "#000", lineWidth: 2.5 } });
  graphic.push(txt("STATISTICS", 1754, 27, 16, { bold: true }));
  graphic.push(txt("LEGEND", 1754, 47, 16, { bold: true }));
  STATS.forEach((s, i) => {
    const y = 83 + i * 24;
    graphic.push(anno(s[0], 1704, y));
    graphic.push(txt(s[1], 1724, y, 16, { align: "left" }));
  });

  return { animation: false, backgroundColor: "#fff", grid, xAxis, yAxis, series, graphic };
}

export default function App() {
  const ref = useRef<HTMLDivElement | null>(null);
  useEffect(() => {
    if (!ref.current) return;
    const chart = echarts.init(ref.current, undefined, { renderer: "svg" });
    chart.setOption(buildOption() as any);
    return () => chart.dispose();
  }, []);
  return <div ref={ref} style={{ position: "fixed", left: 0, top: 0, width: 2040, height: 1049, background: "#fff" }} />;
}
